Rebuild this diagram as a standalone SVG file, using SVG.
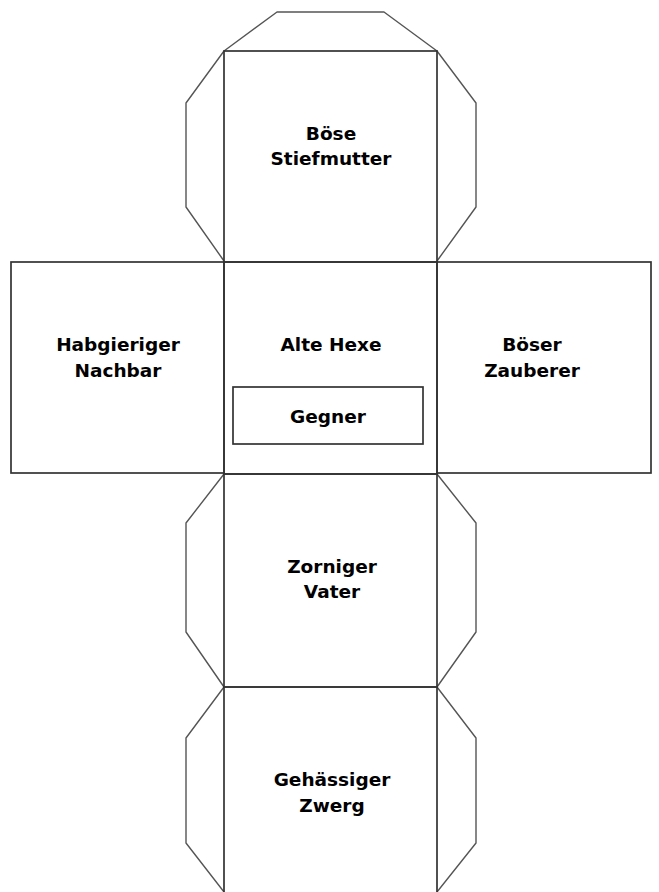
<svg xmlns="http://www.w3.org/2000/svg" width="659" height="892" viewBox="0 0 659 892">
<style>
.face{fill:none;stroke:#333;stroke-width:1.7}
.flap{fill:none;stroke:#555;stroke-width:1.4;stroke-linejoin:round}
.t{font-family:"DejaVu Sans",Verdana,sans-serif;font-weight:bold;font-size:18.5px;fill:#000;text-anchor:middle}
.g{font-family:"Comic Sans MS","DejaVu Sans",sans-serif;font-weight:bold;font-size:18.5px;fill:#000;text-anchor:middle}
</style>
<rect width="659" height="892" fill="#fff"/>
<g id="flaps">
<polyline class="flap" points="224,51 277,12 384,12 437,51"/>
<polyline class="flap" points="224,51 186,103 186,207 224,261"/>
<polyline class="flap" points="437,51 476,103 476,207 437,261"/>
<polyline class="flap" points="224,474 186,523 186,632 224,687"/>
<polyline class="flap" points="437,474 476,523 476,632 437,687"/>
<polyline class="flap" points="224,687 186,738 186,843 224,892"/>
<polyline class="flap" points="437,687 476,738 476,843 437,892"/>
</g>
<g id="face-top">
<rect class="face" x="224" y="51" width="213" height="211"/>
<text class="t" x="331" y="140">Böse</text>
<text class="t" x="331" y="165">Stiefmutter</text>
</g>
<g id="face-left">
<rect class="face" x="11" y="262" width="213" height="211"/>
<text class="t" x="118" y="351">Habgieriger</text>
<text class="t" x="118" y="377">Nachbar</text>
</g>
<g id="face-center">
<rect class="face" x="224" y="262" width="213" height="212"/>
<text class="t" x="331" y="351">Alte Hexe</text>
</g>
<g id="label-gegner">
<rect class="face" x="233" y="387" width="190" height="57"/>
<text class="g" x="328" y="423">Gegner</text>
</g>
<g id="face-right">
<rect class="face" x="437" y="262" width="214" height="211"/>
<text class="t" x="532" y="351">Böser</text>
<text class="t" x="532" y="377">Zauberer</text>
</g>
<g id="face-lower">
<rect class="face" x="224" y="474" width="213" height="213"/>
<text class="t" x="332" y="573">Zorniger</text>
<text class="t" x="332" y="598">Vater</text>
</g>
<g id="face-bottom">
<polyline class="face" points="224,893 224,687 437,687 437,893"/>
<text class="t" x="332" y="786">Gehässiger</text>
<text class="t" x="332" y="812">Zwerg</text>
</g>
</svg>
